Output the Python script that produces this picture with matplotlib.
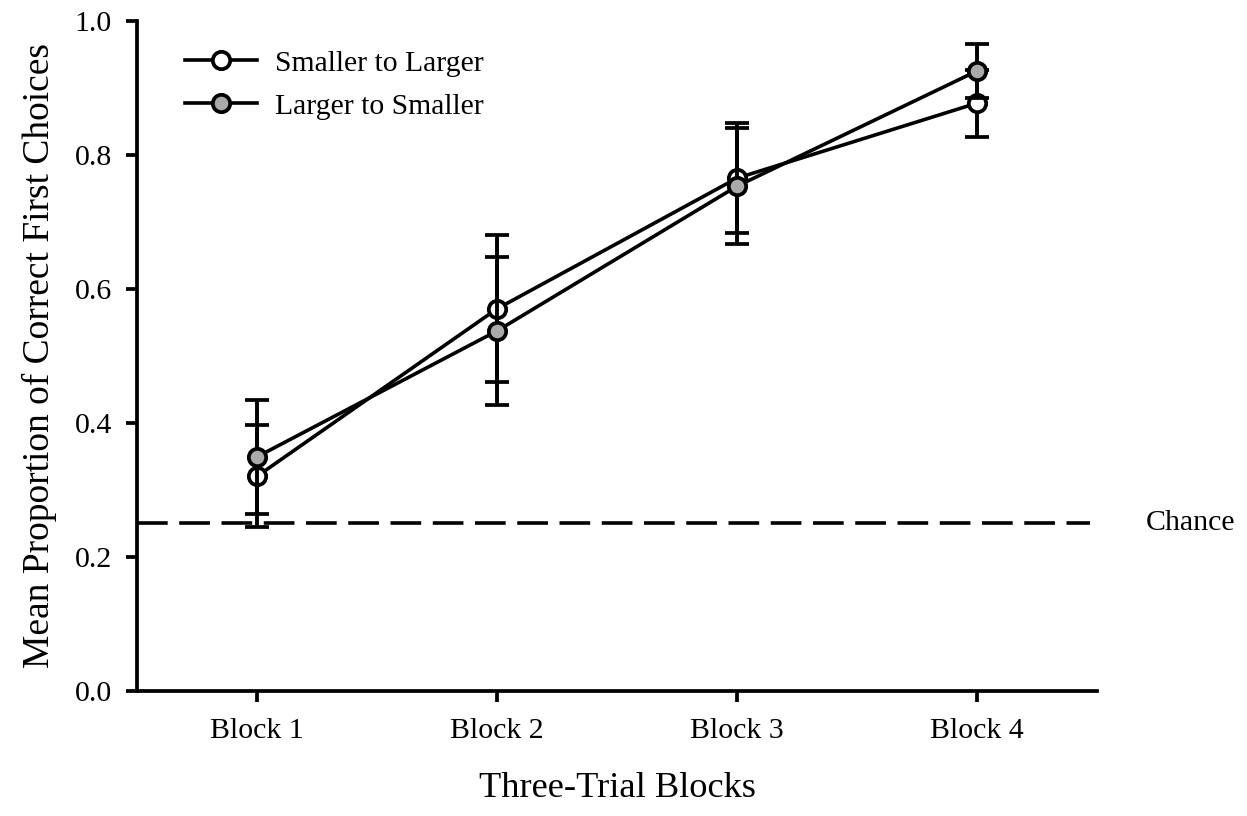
import numpy as np
import matplotlib
matplotlib.use('Agg')
import matplotlib.pyplot as plt

# donnees
blocks = ['Block 1', 'Block 2', 'Block 3', 'Block 4']
small_to_large = [0.320, 0.570, 0.765, 0.877]
small_to_large_err = [0.076, 0.110, 0.082, 0.050]
large_to_small = [0.349, 0.537, 0.753, 0.925]
large_to_small_err = [0.085, 0.110, 0.087, 0.041]
chance = 0.25

plt.rcParams['font.family'] = ['Liberation Serif', 'DejaVu Serif']

fig = plt.figure(figsize=(12.47, 8.16), dpi=100)
ax = fig.add_axes([0.1099, 0.1536, 0.7698, 0.821])

x = np.arange(1, len(blocks) + 1)
lw = 2.6

# serie blanche d'abord, puis la grise par-dessus
ax.errorbar(x, small_to_large, yerr=small_to_large_err, color='black', lw=lw,
            elinewidth=2.8, capsize=8.5, capthick=2.8, marker='o', ms=12.5,
            mfc='white', mec='black', mew=2.7, label='Smaller to Larger',
            zorder=3)
ax.errorbar(x, large_to_small, yerr=large_to_small_err, color='black', lw=lw,
            elinewidth=2.8, capsize=8.5, capthick=2.8, marker='o', ms=12.5,
            mfc='#aaaaaa', mec='black', mew=2.7, label='Larger to Smaller',
            zorder=4)

# ligne du hasard
ax.plot([0.5, 4.47], [chance, chance], color='black', lw=lw,
        linestyle=(0, (8.5, 3.2)), zorder=2)
ax.text(4.705, chance, 'Chance', fontsize=21.5, va='center', ha='left',
        clip_on=False)

ax.set_xlim(0.5, 4.5)
ax.set_ylim(0, 1.0)
ax.set_xticks(x)
ax.set_xticklabels(blocks)
ax.set_yticks([0.0, 0.2, 0.4, 0.6, 0.8, 1.0])
ax.set_yticklabels(['0.0', '0.2', '0.4', '0.6', '0.8', '1.0'])

for s in ['top', 'right']:
    ax.spines[s].set_visible(False)
for s in ['left', 'bottom']:
    ax.spines[s].set_linewidth(2.7)

ax.tick_params(axis='both', direction='out', length=8, width=2.7,
               labelsize=21.5)
ax.tick_params(axis='y', pad=10)
ax.tick_params(axis='x', pad=12)

ax.set_xlabel('Three-Trial Blocks', fontsize=26.2, labelpad=20)
ax.set_ylabel('Mean Proportion of Correct First Choices', fontsize=27,
              labelpad=13)

handles, labels = ax.get_legend_handles_labels()
handles = [h[0] for h in handles]
ax.legend(handles, labels, loc='upper left', bbox_to_anchor=(0.028, 0.987),
          frameon=False, fontsize=21.3, handlelength=2.45, handletextpad=0.6,
          labelspacing=0.55, borderaxespad=0.3)

fig.savefig('out.png', dpi=100)
